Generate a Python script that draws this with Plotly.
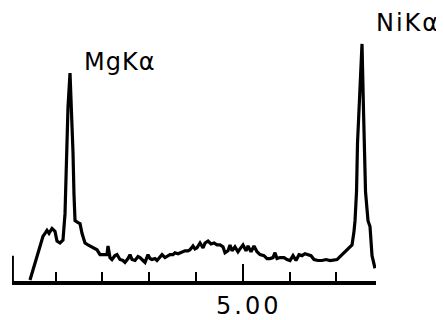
import plotly.graph_objects as go

# EDS spectrum (energy in keV, counts in arbitrary units)
energy_kev = [0.455, 0.519, 0.605, 0.669, 0.733, 0.776, 0.818, 0.861, 0.925, 0.989,
              1.032, 1.096, 1.160, 1.203, 1.235, 1.267, 1.310, 1.342, 1.374, 1.395,
              1.417, 1.481, 1.524, 1.566, 1.630, 1.694, 1.737, 1.823, 1.887, 1.951,
              2.036, 2.100, 2.122, 2.164, 2.207, 2.271, 2.314, 2.378, 2.442, 2.485,
              2.549, 2.592, 2.635, 2.699, 2.763, 2.806, 2.870, 2.913, 2.976, 3.019,
              3.062, 3.126, 3.169, 3.233, 3.276, 3.340, 3.404, 3.447, 3.511, 3.553,
              3.618, 3.660, 3.724, 3.767, 3.831, 3.874, 3.938, 3.981, 4.023, 4.088,
              4.152, 4.195, 4.259, 4.323, 4.387, 4.451, 4.515, 4.579, 4.622, 4.686,
              4.728, 4.771, 4.835, 4.899, 4.942, 5.006, 5.071, 5.113, 5.177, 5.241,
              5.306, 5.370, 5.455, 5.519, 5.583, 5.647, 5.690, 5.733, 5.797, 5.883,
              5.947, 6.011, 6.075, 6.139, 6.203, 6.267, 6.331, 6.395, 6.459, 6.524,
              6.609, 6.695, 6.780, 6.866, 6.951, 7.015, 7.079, 7.122, 7.186, 7.229,
              7.293, 7.336, 7.378, 7.400, 7.432, 7.453, 7.485, 7.549, 7.581, 7.592,
              7.624, 7.677, 7.720, 7.763, 7.805, 7.827]
counts = [12, 56, 116, 152, 192, 204, 216, 204, 224, 212,
          172, 164, 176, 284, 536, 724, 864, 724, 536, 364,
          256, 248, 244, 204, 164, 156, 152, 144, 136, 116,
          116, 116, 152, 104, 96, 112, 116, 96, 92, 84,
          100, 116, 96, 92, 108, 104, 92, 84, 116, 100,
          96, 100, 92, 104, 116, 104, 112, 116, 116, 124,
          120, 124, 128, 132, 132, 136, 152, 140, 144, 164,
          144, 164, 172, 160, 164, 156, 156, 148, 124, 132,
          156, 132, 148, 128, 140, 156, 132, 152, 128, 152,
          128, 116, 112, 100, 100, 104, 124, 100, 104, 104,
          96, 92, 112, 92, 116, 112, 120, 116, 112, 96,
          92, 92, 96, 92, 96, 96, 108, 116, 124, 132,
          148, 156, 212, 256, 376, 576, 712, 984, 712, 576,
          376, 256, 232, 112, 76, 60]

minor_tick_kev = [1, 2, 3, 4, 6, 7]
major_tick_kev = [5]
major_tick_labels = ["5.00"]
start_mark_kev = [0.09, 0.09]
start_mark_counts = [8, 112]
peak_labels = ["MgKα", "NiKα"]

FONT = "DejaVu Sans"
# the page body adds an 8 px offset, so the figure is sized to fill the rest
W, H = 436, 312


def spaced(text, px):
    return f'<span style="letter-spacing:{px}px">{text}</span>'


fig = go.Figure()
fig.add_trace(go.Scatter(x=energy_kev, y=counts, mode="lines",
                         line=dict(color="black", width=3.2), hoverinfo="skip"))
fig.add_trace(go.Scatter(x=start_mark_kev, y=start_mark_counts, mode="lines",
                         line=dict(color="black", width=2), hoverinfo="skip"))

fig.update_layout(
    width=W, height=H,
    margin=dict(l=0, r=0, t=0, b=0),
    paper_bgcolor="white", plot_bgcolor="white",
    showlegend=False,
    xaxis=dict(domain=[4 / W, 368 / W], range=[0.0705, 7.848],
               showgrid=False, zeroline=False,
               showline=True, linecolor="black", linewidth=4,
               ticks="inside", ticklen=17, tickwidth=2, tickcolor="black",
               tickvals=major_tick_kev,
               ticktext=[spaced(t, 3) for t in major_tick_labels],
               ticklabelshift=6,
               tickfont=dict(family=FONT, size=24, color="black"),
               minor=dict(tickvals=minor_tick_kev, ticks="inside", ticklen=9,
                          tickwidth=2, tickcolor="black", showgrid=False)),
    yaxis=dict(domain=[31 / H, 1], range=[8, 1132],
               showgrid=False, zeroline=False, showline=False,
               showticklabels=False, ticks=""),
    annotations=[
        dict(text=spaced(peak_labels[0], 1), xref="paper", yref="paper",
             x=74 / W, y=1 - 55.5 / H,
             xanchor="left", yanchor="middle", showarrow=False,
             font=dict(family=FONT, size=24, color="black")),
        dict(text=spaced(peak_labels[1], 2), xref="paper", yref="paper",
             x=366 / W, y=1 - 15.5 / H,
             xanchor="left", yanchor="middle", showarrow=False,
             font=dict(family=FONT, size=24, color="black")),
    ],
)

fig.write_html("out.html")
